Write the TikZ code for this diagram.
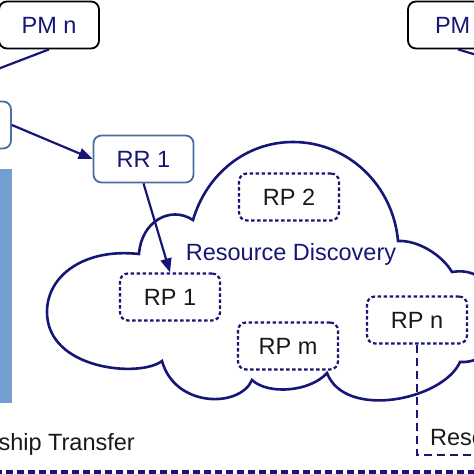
\documentclass[tikz,border=0pt]{standalone}
\usepackage{fontspec}
\setmainfont{Liberation Sans}
\usetikzlibrary{arrows.meta}
\definecolor{navy}{RGB}{22,22,118}
\definecolor{steel}{RGB}{72,110,162}
\definecolor{barblue}{RGB}{114,159,207}

\begin{document}
\begin{tikzpicture}
[x=1pt,y=-1pt,%
  box/.style={shape=rectangle,rounded corners=8pt,draw,line width=1.8pt,fill=white,%
    minimum width=100pt,minimum height=47pt,inner sep=0pt,text=navy},%
  pmbox/.style={box,draw=black},%
  rrbox/.style={box,draw=steel},%
  rpbox/.style={box,draw=navy,dash pattern=on 3.5pt off 2.5pt,line width=2.2pt,text=black!90},%
  lbl/.style={inner sep=0pt,text=black!90},%
  link/.style={draw=navy,line width=2.2pt},%
  arr/.style={link,-{Triangle[length=14pt,width=11pt]}},%
  cloud/.style={draw=navy,line width=2.6pt}]
\fontsize{23.5}{28}\selectfont
\useasboundingbox (0,0) rectangle (474,474);

% side bar
\fill[barblue] (-20,169) rectangle (12,403);

% cloud
\draw[cloud] (139,254) .. controls (141,222) and (170,205) .. (193,220)
  .. controls (206.4,174.4) and (245.5,142) .. (293,142)
  .. controls (348.5,142) and (393.2,185.7) .. (398,241)
  .. controls (418,240) and (442,255) .. (452,272)
  .. controls (510,262) and (515,365) .. (460,362)
  .. controls (443,400) and (345,420) .. (327,373)
  .. controls (310,392) and (268,395) .. (252,380)
  .. controls (240,408) and (175,408) .. (162,361)
  .. controls (140,378) and (47,370) .. (47,312)
  .. controls (47,275) and (85,248) .. cycle;

% boxes
\node[pmbox] (pmn) at (49,25) {PM n};
\node[pmbox,inner xsep=27pt,text width=46pt,align=left] (pm) at (458,25) {PM};
\node[rrbox] (own) at (-39,125) {};
\node[rrbox] (rr1) at (143.5,159) {RR 1};
\node[rpbox] (rp1) at (170,297) {RP 1};
\node[rpbox] (rp2) at (289,197) {RP 2};
\node[rpbox] (rpm) at (288,346) {RP m};
\node[rpbox] (rpn) at (417,320) {RP n};

% labels
\node[lbl,text=navy,anchor=base] (disc) at (291,260) {Resource Discovery};
\node[lbl,anchor=base east] (owntr) at (135,450) {ship Transfer};
\node[lbl,anchor=base west] (resl) at (430,445) {Rese};

\coordinate (pmnout) at (-10,72);
\coordinate (pmout) at (490,59);
\coordinate (resout) at (490,455);
\coordinate (botl) at (-5,472);
\coordinate (botr) at (480,472);

% links
\draw[link] (pmn.south) -- (pmnout);
\draw[link] (pm.south) -- (pmout);
\draw[arr] (own.east) -- (rr1.west);
\draw[arr] (rr1.south) -- (rp1.north);
\draw[link,dash pattern=on 8pt off 5pt] (rpn.south) |- (resout);
\draw[link,line width=3.2pt,dash pattern=on 7pt off 4pt] (botl) -- (botr);
\end{tikzpicture}
\end{document}
